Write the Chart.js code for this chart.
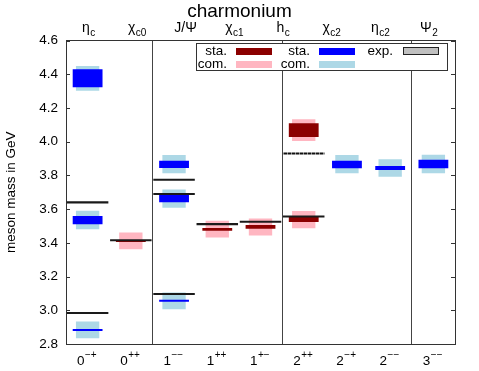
<!DOCTYPE html>
<html>
<head>
<meta charset="utf-8">
<script src="https://cdn.jsdelivr.net/npm/chart.js@4.4.1/dist/chart.umd.min.js"></script>
<style>
  html, body { margin: 0; padding: 0; background: #fff; }
  #wrap { position: relative; width: 479px; height: 371px; font-family: "Liberation Sans", Arial, sans-serif; }
  #legend { position: absolute; left: 196px; top: 43px; width: 250px; height: 26px; border: 1px solid #333; background: #fff; }
  .lt { position: absolute; font-size: 13.5px; line-height: 14px; text-align: right; width: 40px; color: #000; }
  .sw { position: absolute; width: 36px; height: 7px; }
</style>
</head>
<body>
<div id="wrap">
  <canvas id="chart"></canvas>
  <div id="legend"></div>
  <div class="lt" style="left:187px; top:44px;">sta.</div>
  <div class="lt" style="left:187px; top:57px;">com.</div>
  <div class="sw" id="swStaRed" style="left:236px; top:48px;"></div>
  <div class="sw" id="swComRed" style="left:236px; top:61px;"></div>
  <div class="lt" style="left:270px; top:44px;">sta.</div>
  <div class="lt" style="left:270px; top:57px;">com.</div>
  <div class="sw" id="swStaBlue" style="left:319px; top:48px;"></div>
  <div class="sw" id="swComBlue" style="left:319px; top:61px;"></div>
  <div class="lt" style="left:353px; top:44px;">exp.</div>
  <div class="sw" style="left:403px; top:47px; width:34px; height:6px; background:#c0c0c0; border:1.5px solid #222;"></div>
</div>
<script>
// J^PC of each column: [J, PC]
const categories = [['0', '−+'], ['0', '++'], ['1', '−−'], ['1', '++'], ['1', '+−'], ['2', '++'], ['2', '−+'], ['2', '−−'], ['3', '−−']];
const stateNames = [['η', 'c'], ['χ', 'c0'], ['J/Ψ', ''], ['χ', 'c1'], ['h', 'c'], ['χ', 'c2'], ['η', 'c2'], ['Ψ', '2']];

// lattice masses, [low, high] in GeV
const staBlue1 = [[2.877, 2.889], null, [3.051, 3.063], null, null, null, null, null, null];
const staBlue2 = [[3.510, 3.559], null, [3.640, 3.686], null, null, null, [3.842, 3.887], [3.832, 3.856], [3.842, 3.893]];
const staBlue3 = [[4.322, 4.429], null, [3.844, 3.887], null, null, null, null, null, null];
const comBlue1 = [[2.834, 2.934], null, [3.006, 3.106], null, null, null, null, null, null];
const comBlue2 = [[3.480, 3.591], null, [3.608, 3.717], null, null, null, [3.812, 3.921], [3.792, 3.895], [3.812, 3.923]];
const comBlue3 = [[4.302, 4.449], null, [3.812, 3.921], null, null, null, null, null, null];

const staRed1 = [null, [3.405, 3.417], null, [3.472, 3.488], [3.484, 3.506], [3.523, 3.553], null, null, null];
const staRed2 = [null, null, null, null, null, [4.028, 4.109], null, null, null];
const comRed1 = [null, [3.362, 3.462], null, [3.431, 3.531], [3.443, 3.545], [3.486, 3.589], null, null, null];
const comRed2 = [null, null, null, null, null, [4.004, 4.133], null, null, null];

// experimental masses in GeV
const exp1 = [2.984, 3.415, 3.097, 3.511, 3.525, 3.556, null, null, null];
const exp2 = [3.640, null, 3.690, null, null, null, null, null, null];
const exp3 = [null, null, 3.774, null, null, null, null, null, null];
const expDashed = [null, null, null, null, null, 3.930, null, null, null];

const FONT = '"Liberation Sans", Arial, sans-serif';
const colors = { staRed: '#8b0000', comRed: '#ffb6c1', staBlue: '#0000ff', comBlue: '#add8e6', exp: '#1a1a1a' };

document.getElementById('swStaRed').style.background = colors.staRed;
document.getElementById('swComRed').style.background = colors.comRed;
document.getElementById('swStaBlue').style.background = colors.staBlue;
document.getElementById('swComBlue').style.background = colors.comBlue;

const LINE_HALF = 0.006;
const expLine = arr => arr.map(v => v == null ? null : [v - LINE_HALF, v + LINE_HALF]);

function bars(data, color, width, order) {
  return {
    data: data,
    backgroundColor: color,
    barPercentage: width,
    categoryPercentage: 1,
    grouped: false,
    borderWidth: 0,
    order: order
  };
}

// dashed pattern for the unconfirmed state
const pc = document.createElement('canvas');
pc.width = 4; pc.height = 4;
const pctx = pc.getContext('2d');
pctx.fillStyle = '#888'; pctx.fillRect(0, 0, 4, 4);
pctx.fillStyle = '#111'; pctx.fillRect(0, 0, 3, 4);
const dashPattern = pctx.createPattern(pc, 'repeat');

// text with a raised or lowered small part, centred on cx
function drawScript(ctx, cx, base, small, y, dy, size, smallSize) {
  ctx.font = size + 'px ' + FONT;
  const w1 = ctx.measureText(base).width;
  ctx.font = smallSize + 'px ' + FONT;
  const w2 = small ? ctx.measureText(small).width : 0;
  const x0 = cx - (w1 + w2) / 2;
  ctx.font = size + 'px ' + FONT;
  ctx.fillText(base, x0, y);
  if (small) {
    ctx.font = smallSize + 'px ' + FONT;
    ctx.fillText(small, x0 + w1 + 0.5, y + dy);
  }
}

const axisText = {
  id: 'axisText',
  afterDraw(chart) {
    const { ctx, chartArea: a, scales } = chart;
    ctx.save();
    ctx.strokeStyle = '#333';
    ctx.lineWidth = 1;
    scales.y.ticks.forEach((t, i) => {
      const py = Math.round(scales.y.getPixelForTick(i)) + 0.5;
      ctx.beginPath();
      ctx.moveTo(a.left, py); ctx.lineTo(a.left + 4, py);
      ctx.moveTo(a.right, py); ctx.lineTo(a.right - 4, py);
      ctx.stroke();
    });
    ctx.fillStyle = '#000';
    ctx.textBaseline = 'alphabetic';
    ctx.textAlign = 'left';
    stateNames.forEach(([main, sub], i) => {
      drawScript(ctx, scales.x2.getPixelForTick(i) - 2, main, sub, a.top - 9, 4, 14, 10);
    });
    categories.forEach(([j, pc], i) => {
      drawScript(ctx, scales.x.getPixelForTick(i) - 1, j, pc, a.bottom + 21, -7, 13.5, 10);
    });
    ctx.restore();
  }
};

Chart.defaults.color = '#000';
Chart.defaults.font.family = FONT;

new Chart(document.getElementById('chart'), {
  type: 'bar',
  data: {
    labels: categories.map(c => c[0] + c[1]),
    datasets: [
      bars(expLine(exp1), colors.exp, 0.96, 0),
      bars(expLine(exp2), colors.exp, 0.96, 0),
      bars(expLine(exp3), colors.exp, 0.96, 0),
      bars(expLine(expDashed), dashPattern, 0.96, 0),
      bars(staBlue1, colors.staBlue, 0.69, 1),
      bars(staBlue2, colors.staBlue, 0.69, 1),
      bars(staBlue3, colors.staBlue, 0.69, 1),
      bars(staRed1, colors.staRed, 0.69, 1),
      bars(staRed2, colors.staRed, 0.69, 1),
      bars(comBlue1, colors.comBlue, 0.54, 2),
      bars(comBlue2, colors.comBlue, 0.54, 2),
      bars(comBlue3, colors.comBlue, 0.54, 2),
      bars(comRed1, colors.comRed, 0.54, 2),
      bars(comRed2, colors.comRed, 0.54, 2)
    ]
  },
  plugins: [axisText],
  options: {
    responsive: true,
    maintainAspectRatio: false,
    animation: false,
    layout: { padding: 0 },
    plugins: {
      legend: { display: false },
      tooltip: { enabled: false },
      title: {
        display: true,
        text: 'charmonium',
        color: '#000',
        font: { size: 19, weight: 'normal', family: FONT },
        padding: { top: 0, bottom: 0 }
      }
    },
    scales: {
      x: {
        offset: true,
        grid: {
          offset: true,
          drawTicks: false,
          color: c => [2, 5, 8].includes(c.index) ? '#444' : 'rgba(0,0,0,0)'
        },
        border: { color: '#333' },
        ticks: { display: false },
        afterFit: s => { s.height = 27; }
      },
      x2: {
        type: 'category',
        position: 'top',
        labels: stateNames.map(s => s.join('')),
        offset: true,
        grid: { display: false },
        border: { display: true, color: '#333' },
        ticks: { display: false },
        afterFit: s => { s.height = 17.7; }
      },
      y: {
        min: 2.8,
        max: 4.6,
        grid: { drawOnChartArea: false, drawTicks: false },
        border: { color: '#333' },
        ticks: { stepSize: 0.2, font: { size: 13.5 }, padding: 8, color: '#000' },
        title: { display: true, text: 'meson mass in GeV', font: { size: 13.5 }, padding: { top: 3, bottom: 0 }, color: '#000' },
        afterFit: s => { s.width = 66; }
      },
      y2: {
        position: 'right',
        min: 2.8,
        max: 4.6,
        grid: { drawOnChartArea: false, drawTicks: false },
        border: { color: '#333' },
        ticks: { display: false },
        afterFit: s => { s.width = 24; }
      }
    }
  }
});
</script>
</body>
</html>
